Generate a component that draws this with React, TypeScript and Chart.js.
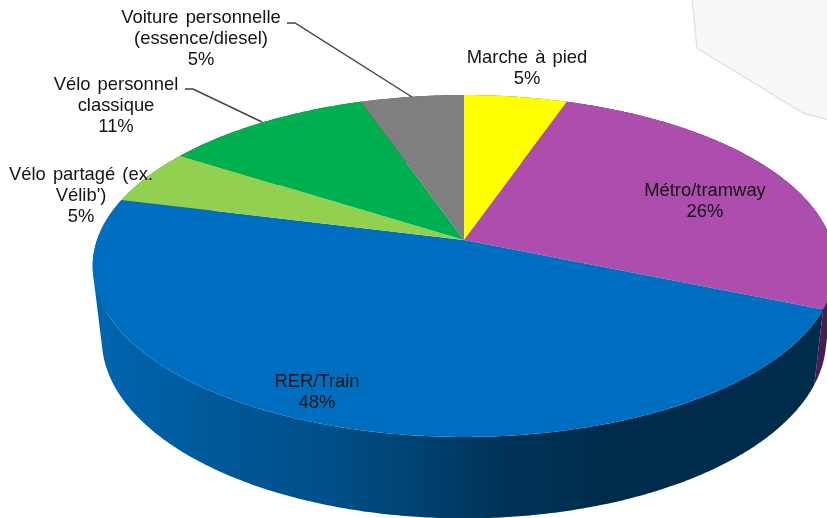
import React, { useEffect, useRef } from "react";
import { Chart, registerables } from "chart.js";

Chart.register(...registerables);

const categories: string[][] = [
  ["Marche à pied"],
  ["Métro/tramway"],
  ["RER/Train"],
  ["Vélo partagé (ex.", "Vélib')"],
  ["Vélo personnel", "classique"],
  ["Voiture personnelle", "(essence/diesel)"],
];
const shares = [5.2, 26.2, 47.6, 5.2, 10.6, 5.2];
const faceColors = ["#FFFF00", "#AD4EAF", "#006EC0", "#92D050", "#00B050", "#7F7F7F"];
const wallColors = ["#6b6b00", "#4A1D52", "#003358", "#4c7a20", "#006a30", "#404040"];
const labelCentres = [
  [527, 58],
  [705, 191],
  [317, 382],
  [81, 175],
  [116, 85],
  [201, 18],
];

const CX = 464;
const K = 0.152;
const TOP = { cy: 240, a: 367, b: 167 };
const BASE = { cy: 312, a: 358, b: 175 };

function project(t: number, g: { cy: number; a: number; b: number }): [number, number] {
  const u = Math.sin(t);
  const v = Math.cos(t);
  const w = 1 + K * v;
  return [CX + (g.a * u) / w, g.cy - (g.b * v) / w];
}

const pie3d = {
  id: "pie3d",
  beforeDatasetsDraw(chart: any) {
    const ctx: CanvasRenderingContext2D = chart.ctx;
    const arcs = chart.getDatasetMeta(0).data;
    const STEP = Math.PI / 360;

    // Faint backdrop shape at the top right of the picture
    ctx.save();
    ctx.beginPath();
    ctx.moveTo(692, -2);
    ctx.lineTo(697, 48);
    ctx.lineTo(803, 113);
    ctx.lineTo(829, 120);
    ctx.lineTo(829, -2);
    ctx.closePath();
    ctx.fillStyle = "#F9F8F9";
    ctx.fill();
    ctx.strokeStyle = "#E2E2E2";
    ctx.lineWidth = 1.4;
    ctx.stroke();
    ctx.restore();

    // Side walls
    const grad = ctx.createLinearGradient(92, 0, 827, 0);
    const stops: [number, string][] = [
      [92, "#0066B0"],
      [200, "#00599B"],
      [320, "#00508A"],
      [430, "#00406E"],
      [500, "#003358"],
      [620, "#002B4A"],
      [827, "#002B4A"],
    ];
    stops.forEach(([x, c]) => grad.addColorStop((x - 92) / (827 - 92), c));
    arcs.forEach((arc: any, i: number) => {
      const s = arc.startAngle + Math.PI / 2;
      const e = arc.endAngle + Math.PI / 2;
      ctx.fillStyle = i === 2 ? grad : wallColors[i];
      ctx.beginPath();
      for (let t = s; t < e; t += STEP) {
        const n = Math.min(t + STEP, e);
        const q = [project(t, TOP), project(n, TOP), project(n, BASE), project(t, BASE)];
        let area = 0;
        q.forEach((p, j) => {
          const o = q[(j + 1) % 4];
          area += p[0] * o[1] - o[0] * p[1];
        });
        if (area < 0) q.reverse();
        ctx.moveTo(q[0][0], q[0][1]);
        ctx.lineTo(q[1][0], q[1][1]);
        ctx.lineTo(q[2][0], q[2][1]);
        ctx.lineTo(q[3][0], q[3][1]);
        ctx.closePath();
      }
      ctx.fill("nonzero");
    });

    // Top faces
    arcs.forEach((arc: any) => {
      const s = arc.startAngle + Math.PI / 2;
      const e = arc.endAngle + Math.PI / 2;
      ctx.beginPath();
      ctx.moveTo(CX, TOP.cy);
      for (let t = s; t < e; t += STEP) {
        const p = project(t, TOP);
        ctx.lineTo(p[0], p[1]);
      }
      const last = project(e, TOP);
      ctx.lineTo(last[0], last[1]);
      ctx.closePath();
      ctx.fillStyle = arc.options.backgroundColor;
      ctx.fill();
    });

    // Leader lines
    ctx.strokeStyle = "#404040";
    ctx.lineWidth = 1.4;
    ctx.beginPath();
    ctx.moveTo(287, 23);
    ctx.lineTo(295, 23);
    ctx.lineTo(412, 97);
    ctx.moveTo(185, 89);
    ctx.lineTo(193, 89);
    ctx.lineTo(262, 122);
    ctx.stroke();

    // Labels
    ctx.font = "18.4px 'Liberation Sans'";
    (ctx as any).wordSpacing = "2px";
    ctx.fillStyle = "#141414";
    ctx.textAlign = "center";
    ctx.textBaseline = "middle";
    chart.data.labels.forEach((lines: string[], i: number) => {
      const rows = [...lines, Math.round(shares[i]) + "%"];
      rows.forEach((row, r) => {
        ctx.fillText(row, labelCentres[i][0], labelCentres[i][1] + r * 21);
      });
    });
    return false;
  },
};

export default function App() {
  const ref = useRef<HTMLCanvasElement>(null);
  useEffect(() => {
    document.body.style.margin = "0";
    const chart = new Chart(ref.current!, {
      type: "pie",
      data: {
        labels: categories,
        datasets: [{ data: shares, backgroundColor: faceColors, borderWidth: 0 }],
      },
      options: {
        responsive: false,
        animation: false,
        plugins: { legend: { display: false }, tooltip: { enabled: false } },
      },
      plugins: [pie3d],
    } as any);
    return () => chart.destroy();
  }, []);
  return <canvas ref={ref} width={827} height={518} style={{ display: "block" }} />;
}
